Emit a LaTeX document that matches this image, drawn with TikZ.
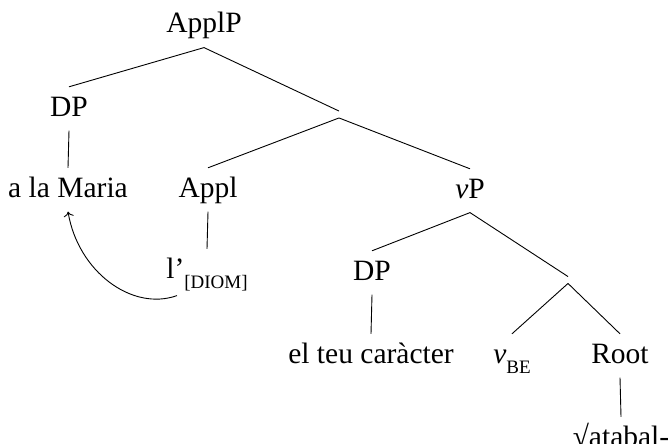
\documentclass[tikz,border=0pt]{standalone}
\usepackage{fontspec}
\setmainfont{Liberation Serif}
\usetikzlibrary{arrows.meta}
\newcommand{\subsc}[1]{\raisebox{-10pt}{\fontsize{19}{20}\selectfont #1}}
\begin{document}
\begin{tikzpicture}[x=1pt,y=-1pt,
  lab/.style={anchor=base, inner xsep=2pt, inner ysep=7pt, text height=22pt, text depth=7.4pt, font=\fontsize{29.5}{34}\selectfont},
  branch/.style={line width=0.9pt},
  hidden/.style={inner sep=0pt, minimum height=6.5pt, minimum width=0pt}]
\useasboundingbox (0,0) rectangle (669,444);
\node[lab] (applp) at (204,33) {ApplP};
\node[lab] (dp1) at (69,116) {DP};
\node[hidden] (n1) at (339,114.5) {};
\node[lab] (maria) at (68,197) {a la Maria};
\node[lab] (appl) at (208,197) {Appl};
\node[lab] (vp) at (470,198) {\textit{ν}P};
\node[lab] (lp) at (207,278) {l’\subsc{[DIOM]}};
\node[lab] (dp2) at (372,280) {DP};
\node[hidden] (n2) at (568,280) {};
\node[lab] (car) at (371,363) {el teu caràcter};
\node[lab] (vbe) at (512,363) {\textit{ν}\subsc{BE}};
\node[lab] (root) at (620,363) {Root};
\node[lab] (atabal) at (621,446) {√atabal-};
\draw[branch] (applp.south) -- (dp1.north);
\draw[branch] (applp.south) -- (n1.north);
\draw[branch] (dp1.south) -- (maria.north);
\draw[branch] (n1.south) -- (appl.north);
\draw[branch] (n1.south) -- (vp.north);
\draw[branch] (appl.south) -- (lp.north);
\draw[branch] (vp.south) -- (dp2.north);
\draw[branch] (vp.south) -- (n2.north);
\draw[branch] (dp2.south) -- (car.north);
\draw[branch] (n2.south) -- (vbe.north);
\draw[branch] (n2.south) -- (root.north);
\draw[branch] (root.south) -- (atabal.north);
\draw[branch,-{To[length=5pt,width=10pt]}] ([shift={(-30,3)}]lp.south) .. controls +(-45,16) and +(10,60) .. (maria.south);
\end{tikzpicture}
\end{document}
